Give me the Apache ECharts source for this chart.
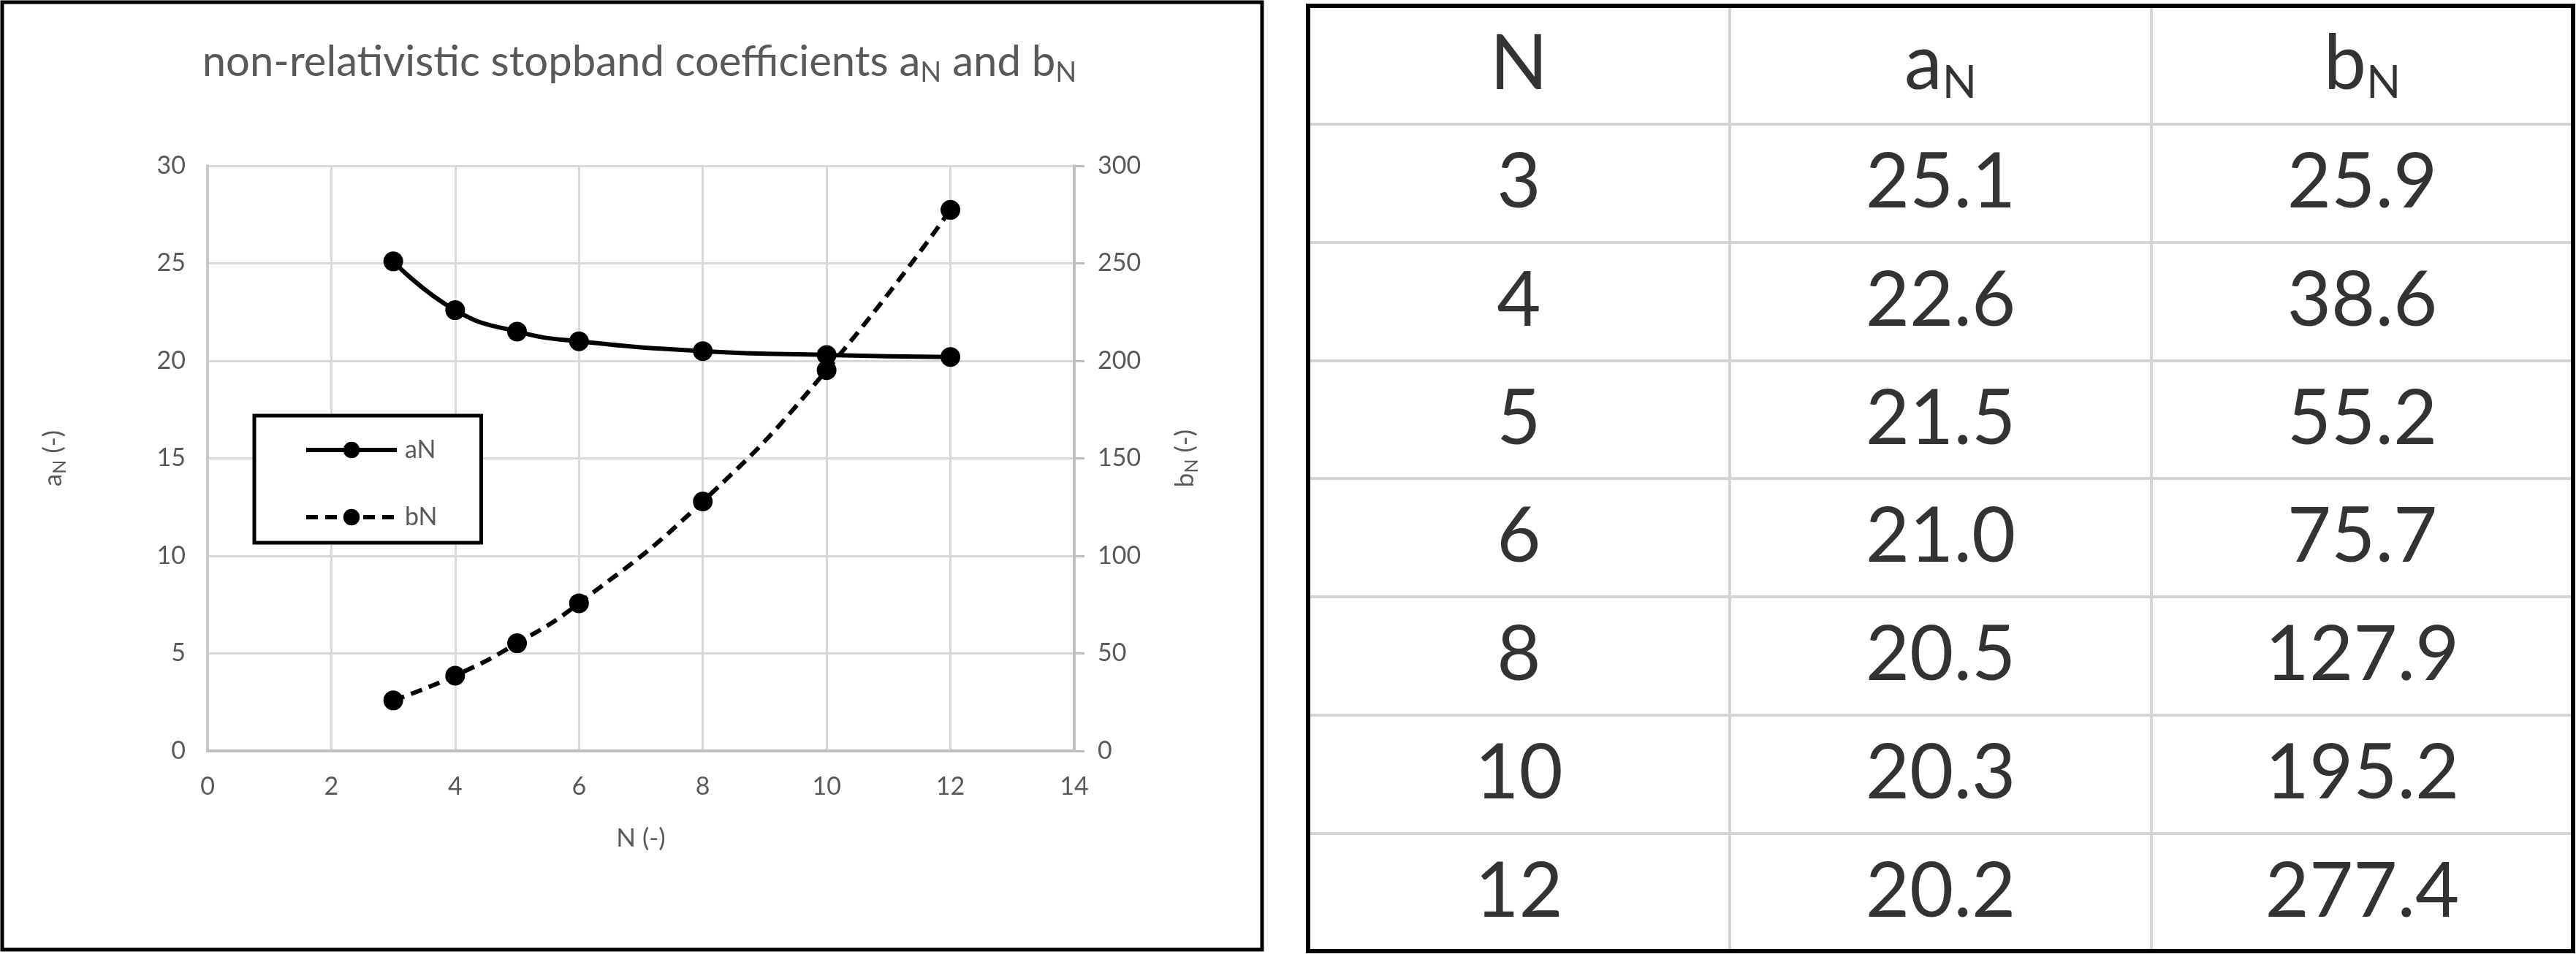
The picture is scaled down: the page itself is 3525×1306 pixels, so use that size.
<!DOCTYPE html>
<html>
<head>
<meta charset="utf-8">
<script src="https://cdn.jsdelivr.net/npm/echarts@6/dist/echarts.min.js"></script>
<style>
html, body { margin: 0; padding: 0; background: #fff; }
#chartDom { width: 3525px; height: 1306px; }
</style>
</head>
<body>
<div id="chartDom"></div>
<script>
var nValues = [3, 4, 5, 6, 8, 10, 12];
var aValues = [25.1, 22.6, 21.5, 21.0, 20.5, 20.3, 20.2];
var bValues = [25.9, 38.6, 55.2, 75.7, 127.9, 195.2, 277.4];
var seriesNames = ['aN', 'bN'];
var tableHead = ['N', 'a{sub|N}', 'b{sub|N}'];

var FONT = 'Lato, "Open Sans", sans-serif';
var GREY = '#595959';

var myChart = echarts.init(document.getElementById('chartDom'));

// cells of the table: [column, row, text]
var cells = [];
tableHead.forEach(function (h, c) { cells.push([c, 0, h]); });
nValues.forEach(function (n, i) {
    cells.push([0, i + 1, String(n)]);
    cells.push([1, i + 1, aValues[i].toFixed(1)]);
    cells.push([2, i + 1, bValues[i].toFixed(1)]);
});
var rowCats = ['head'].concat(nValues.map(String));

var subSmall = { fontSize: 25, fontFamily: FONT, color: GREY, padding: [18, 0, 0, 0] };

var option = {
    backgroundColor: '#fff',
    animation: false,
    title: {
        text: 'non-relativistic stopband coefficients a{sub|N} and b{sub|N}',
        left: 870,
        top: 46,
        textAlign: 'center',
        textStyle: {
            fontFamily: FONT, fontSize: 58, fontWeight: 'normal', color: GREY,
            rich: { sub: { fontSize: 38, fontFamily: FONT, color: GREY, padding: [30, 0, 0, 0] } }
        }
    },
    legend: {
        data: seriesNames,
        orient: 'vertical',
        left: 348,
        top: 569,
        padding: [30, 60, 18, 68],
        itemWidth: 124,
        itemHeight: 28,
        itemGap: 58,
        borderColor: '#000',
        borderWidth: 5,
        backgroundColor: '#fff',
        lineStyle: { width: 6 },
        textStyle: { fontFamily: FONT, fontSize: 34, color: GREY, padding: [0, 0, 0, 6] }
    },
    graphic: [
        { type: 'rect', shape: { x: 3, y: 3, width: 1724, height: 1297 },
          style: { fill: 'none', stroke: '#000', lineWidth: 5 }, z: 100 },
        { type: 'rect', shape: { x: 1790, y: 8, width: 1731, height: 1294 },
          style: { fill: 'none', stroke: '#000', lineWidth: 6 }, z: 100 }
    ],
    grid: [
        { left: 284, right: 2055, top: 227, bottom: 278 },
        { left: 1790, right: 4, top: 8, bottom: 4 }
    ],
    xAxis: [
        {
            type: 'value', gridIndex: 0, min: 0, max: 14, interval: 2,
            axisLine: { show: true, lineStyle: { color: '#bfbfbf', width: 4 } },
            axisTick: { show: false },
            axisLabel: { fontFamily: FONT, fontSize: 34, color: GREY, margin: 32 },
            splitLine: { show: true, lineStyle: { color: '#d9d9d9', width: 3 } },
            name: 'N (-)', nameLocation: 'middle', nameGap: 102,
            nameTextStyle: { fontFamily: FONT, fontSize: 35, color: GREY }
        },
        {
            type: 'category', gridIndex: 1, data: ['N', 'aN', 'bN'],
            axisLine: { show: false }, axisTick: { show: false }, axisLabel: { show: false },
            splitLine: { show: true, interval: 0, lineStyle: { color: '#d4d4d4', width: 4 } }
        }
    ],
    yAxis: [
        {
            type: 'value', gridIndex: 0, min: 0, max: 30, interval: 5, position: 'left',
            axisLine: { show: true, lineStyle: { color: '#c8c8c8', width: 4 } },
            axisTick: { show: false },
            axisLabel: { fontFamily: FONT, fontSize: 34, color: GREY, margin: 30 },
            splitLine: { show: true, lineStyle: { color: '#d9d9d9', width: 3 } },
            name: 'a{sub|N} (-)', nameLocation: 'middle', nameGap: 190,
            nameTextStyle: { fontFamily: FONT, fontSize: 35, color: GREY, rich: { sub: subSmall } }
        },
        {
            type: 'value', gridIndex: 0, min: 0, max: 300, interval: 50, position: 'right',
            axisLine: { show: true, lineStyle: { color: '#bfbfbf', width: 4 } },
            axisTick: { show: true, length: 14, lineStyle: { color: '#bfbfbf', width: 3 } },
            axisLabel: { fontFamily: FONT, fontSize: 34, color: GREY, margin: 32 },
            splitLine: { show: false },
            name: 'b{sub|N} (-)', nameLocation: 'middle', nameGap: 130, nameRotate: 90,
            nameTextStyle: { fontFamily: FONT, fontSize: 35, color: GREY, rich: { sub: subSmall } }
        },
        {
            type: 'category', gridIndex: 1, data: rowCats, inverse: true,
            axisLine: { show: false }, axisTick: { show: false }, axisLabel: { show: false },
            splitLine: { show: true, interval: 0, lineStyle: { color: '#d4d4d4', width: 4 } }
        }
    ],
    series: [
        {
            name: seriesNames[0], type: 'line', xAxisIndex: 0, yAxisIndex: 0, smooth: true,
            data: nValues.map(function (n, i) { return [n, aValues[i]]; }),
            symbol: 'circle', symbolSize: 27,
            itemStyle: { color: '#000' },
            lineStyle: { color: '#000', width: 6 }
        },
        {
            name: seriesNames[1], type: 'line', xAxisIndex: 0, yAxisIndex: 1, smooth: true,
            data: nValues.map(function (n, i) { return [n, bValues[i]]; }),
            symbol: 'circle', symbolSize: 27,
            itemStyle: { color: '#000' },
            lineStyle: { color: '#000', width: 6, type: [16, 10] }
        },
        {
            name: 'table', type: 'scatter', xAxisIndex: 1, yAxisIndex: 2,
            data: cells, symbolSize: 1, silent: true,
            itemStyle: { color: 'rgba(0,0,0,0)' },
            label: {
                show: true, position: 'inside',
                formatter: function (p) { return p.value[2]; },
                fontFamily: FONT, fontSize: 104, color: '#000',
                rich: { sub: { fontFamily: FONT, fontSize: 62, color: '#000', padding: [50, 0, 0, 0] } }
            }
        }
    ]
};

myChart.setOption(option);
</script>
</body>
</html>
